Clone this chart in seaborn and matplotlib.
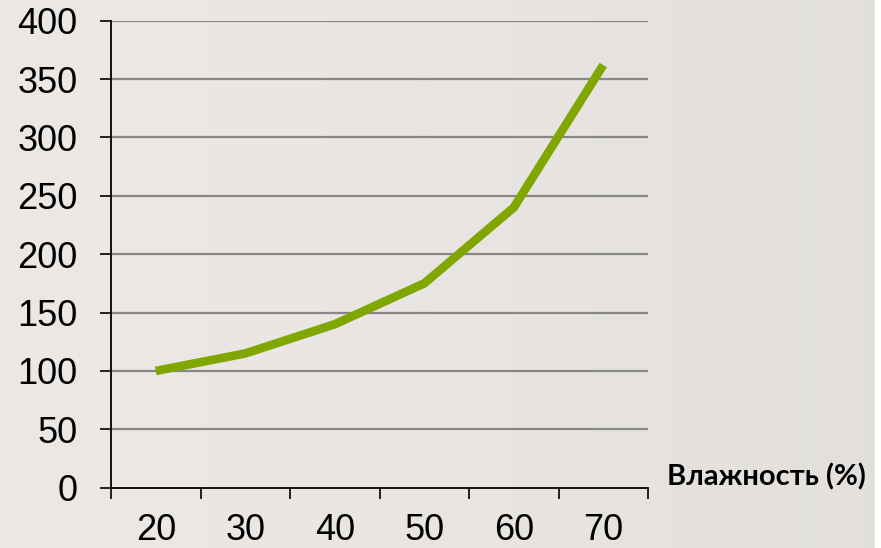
import numpy as np
import matplotlib
matplotlib.use("Agg")
import matplotlib.pyplot as plt
import seaborn as sns

# Humidity categories and the measured values at each of them
humidity = ["20", "30", "40", "50", "60", "70"]
values = [100, 115, 140, 175, 240, 362]
y_ticks = [0, 50, 100, 150, 200, 250, 300, 350, 400]
x_title = "Влажность (%)"

sns.set_theme(style="white")
plt.rcParams["font.family"] = ["Liberation Sans", "DejaVu Sans"]

W, H, DPI = 881, 548, 100
fig = plt.figure(figsize=(W / DPI, H / DPI), dpi=DPI)

# soft slide background: light warm grey, a touch darker to the right, white edge strip
bg = fig.add_axes([0, 0, 1, 1], zorder=-10)
t = np.linspace(0, 1, 400)
c0 = np.array([0.922, 0.910, 0.898])
c1 = np.array([0.886, 0.875, 0.863])
grad = c0[None, :] + (c1 - c0)[None, :] * (t[:, None] ** 1.5)
img = np.repeat(grad[None, :, :], 2, axis=0)
bg.imshow(img, aspect="auto", extent=[0, 875 / W, 0, 1])
bg.axvspan(875 / W, 1, color="white")
bg.set_xlim(0, 1)
bg.set_ylim(0, 1)
bg.axis("off")

ax = fig.add_axes([111 / W, 1 - 487.7 / H, (648 - 111) / W, (487.7 - 20.7) / H])
ax.set_facecolor("none")

x = np.arange(len(humidity))
sns.lineplot(x=x, y=values, ax=ax, color="#80a600", linewidth=6.2,
             solid_capstyle="butt", solid_joinstyle="miter", zorder=3)

ax.set_xlim(-0.5, len(humidity) - 0.5)
ax.set_ylim(0, 400)

# horizontal gridlines
for v in y_ticks[1:]:
    ax.axhline(v, color="#878787", linewidth=1.6, zorder=1)

ax.set_yticks(y_ticks)
ax.set_yticklabels([str(v) for v in y_ticks])
ax.set_xticks(x)
ax.set_xticklabels(humidity)
ax.set_xticks(np.arange(len(humidity) + 1) - 0.5, minor=True)

ax.tick_params(axis="y", which="major", direction="out", length=8, width=1.2,
               color="black", pad=16, labelsize=26, left=True, labelcolor="black")
ax.tick_params(axis="x", which="major", length=0, pad=18, labelsize=26,
               bottom=True, labelcolor="black")
ax.tick_params(axis="x", which="minor", direction="out", length=8, width=1.2,
               color="black", bottom=True)

for side in ["top", "right"]:
    ax.spines[side].set_visible(False)
for side in ["left", "bottom"]:
    ax.spines[side].set_color("black")
    ax.spines[side].set_linewidth(1.3)
    ax.spines[side].set_zorder(4)

fig.text(667 / W, 1 - 477 / H, x_title, ha="left", va="center",
         fontsize=21, fontweight="bold", family=["Lato", "DejaVu Sans"], color="black")

fig.savefig("out.png", dpi=DPI)
